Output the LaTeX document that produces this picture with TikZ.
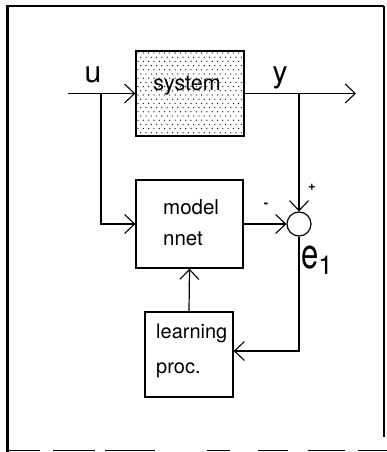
\documentclass[tikz,border=0pt]{standalone}
\usepackage{fontspec}
\setmainfont{TeX Gyre Heros}
\usetikzlibrary{arrows.meta}
\tikzset{
  blk/.style={draw, line width=1.3pt, rectangle, inner sep=0pt},
  wire/.style={line width=1.2pt},
  arr/.style={wire, -{Straight Barb[length=10pt,width=19pt,line width=1.1pt]}},
  boxtext/.style={font=\fontsize{20.5}{31}\selectfont, align=left, inner sep=0pt},
  sig/.style={font=\fontsize{30}{30}\selectfont, inner sep=0pt, anchor=base},
  sgn/.style={font=\fontsize{13}{13}\selectfont\bfseries, inner sep=0pt}
}
\begin{document}
\begin{tikzpicture}[x=1pt, y=-1pt]
  \useasboundingbox (0,0) rectangle (387,452);

  % outer frame
  \draw[line width=3pt] (7,5) -- (7,452);
  \draw[line width=2pt] (6,6.5) -- (384,6.5);
  \draw[line width=1.1pt] (384,6) -- (384,437);
  \foreach \a/\b in {8/40, 53/95, 105/155, 207/230, 258/288, 308/345, 358/387}
    \draw[line width=1.5pt] (\a,450.5) -- (\b,450.5);

  % blocks
  \node[blk, minimum width=108pt, minimum height=85pt] (sys) at (190,93.5) {};
  \begin{scope}
    \clip (136,51) rectangle (244,136);
    \foreach \j in {0,...,20} {
      \pgfmathsetmacro{\yy}{53+4.2*\j}
      \pgfmathsetmacro{\xo}{mod(\j,2)*2.65}
      \foreach \i in {0,...,21}
        \fill ({138+\xo+5.3*\i},\yy) circle (0.65pt);
    }
  \end{scope}
  \node[blk, minimum width=108pt, minimum height=85pt] at (190,93.5) {};
  \node[boxtext, font=\fontsize{21.5}{21.5}\selectfont] (systxt) at (187,86) {system};

  \node[blk, minimum width=107pt, minimum height=88pt] (mdl) at (189.5,224) {};
  \node[boxtext, anchor=base west] (mdltxt) at (163,245) {model\\nnet};

  \node[blk, minimum width=88pt, minimum height=85pt] (lrn) at (189,354.5) {};
  \node[boxtext, anchor=base west, font=\fontsize{20}{35}\selectfont] (lrntxt) at (156,373) {learning\\proc.};

  % summing junction
  \node[draw, circle, line width=1.2pt, minimum size=24pt, inner sep=0pt] (sum) at (299,224) {};

  % signal points
  \coordinate (uin) at (68,93.5);
  \coordinate (ub) at (101,93.5);
  \coordinate (yb) at (299,93.5);
  \coordinate (yout) at (356,93.5);

  % connectors
  \draw[arr] (uin) -- (sys.west);
  \draw[arr] (ub) |- (mdl.west);
  \draw[arr] (sys.east) -- (yout);
  \draw[arr] (yb) -- (sum.north);
  \draw[arr] (mdl.east) -- (sum.west);
  \draw[arr] (sum.south) |- ([yshift=3.5pt]lrn.east);
  \draw[arr] (lrn.north) -- (mdl.south);

  % labels
  \node[sig] (ulab) at (93,82) {u};
  \node[sig] (ylab) at (280,82) {y};
  \node[sgn] (minus) at (266,205) {-};
  \node[sgn] (plus) at (312,187) {+};
  \node[inner sep=0pt, anchor=base west] (elab) at (301,268)
    {\scalebox{1}[1.35]{\fontsize{31}{31}\selectfont e}\raisebox{-6pt}{\fontsize{26}{26}\selectfont 1}};
\end{tikzpicture}
\end{document}
